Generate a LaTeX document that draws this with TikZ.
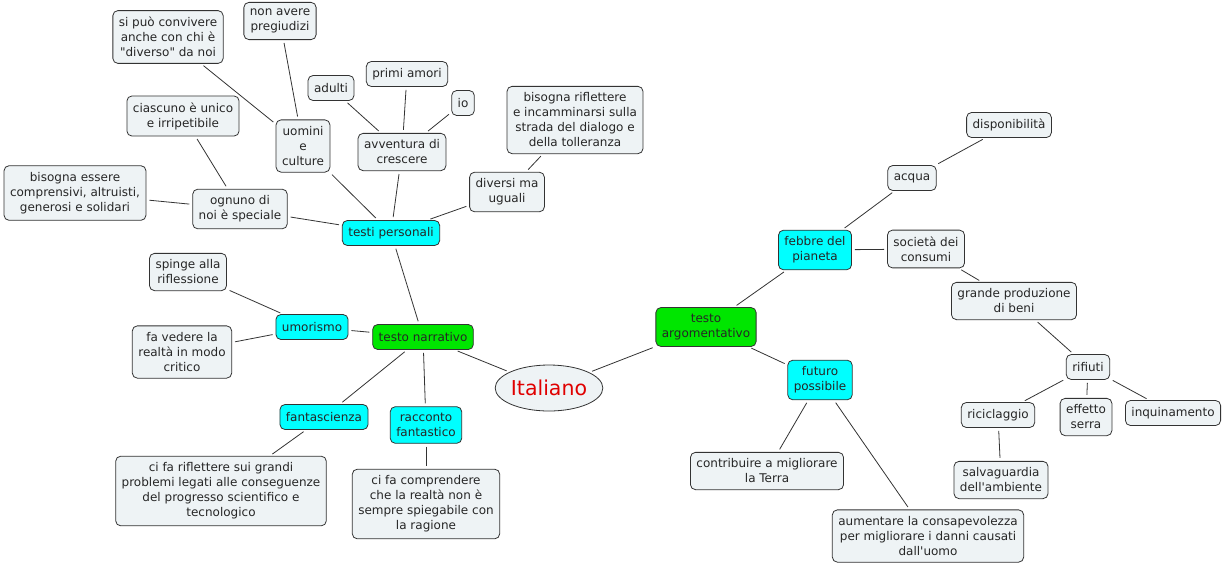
\documentclass[tikz,border=0pt]{standalone}
\usepackage{fontspec}
\setmainfont{DejaVu Sans}[Ligatures=TeXOff]
\usetikzlibrary{shapes.geometric}
\definecolor{leaffill}{HTML}{EEF3F5}
\definecolor{topicfill}{HTML}{00FFFF}
\definecolor{mainfill}{HTML}{00E600}
\definecolor{rootred}{HTML}{E00000}
\begin{document}
\begin{tikzpicture}[x=1pt, y=-1pt,
  every node/.style={font=\fontsize{12}{15}\selectfont, text=black!85, align=center},
  leaf/.style={draw=black!80, fill=leaffill, rounded corners=5pt, line width=0.8pt,
    inner xsep=6pt, inner ysep=6.5pt, minimum height=25pt},
  topic/.style={leaf, fill=topicfill},
  mainbox/.style={leaf, fill=mainfill},
  link/.style={draw=black!80, line width=0.8pt, shorten >=3pt, shorten <=3pt}]
  \useasboundingbox (0,0) rectangle (1225,566);

  \node[draw=black!80, fill=leaffill, ellipse, line width=0.8pt, minimum width=98pt, minimum height=46pt, inner sep=0pt,
    font=\fontsize{20.5}{24}\selectfont, text=rootred] (ital) at (549,388) {Italiano};

  \node[mainbox] (narr) at (423,337) {testo narrativo};
  \node[mainbox] (argo) at (706,327) {testo\\argomentativo};

  \node[topic] (pers) at (391,233) {testi personali};
  \node[topic] (umor) at (312,327) {umorismo};
  \node[topic] (fanta) at (324,417) {fantascienza};
  \node[topic] (racc) at (426,425) {racconto\\fantastico};
  \node[topic] (febbre) at (815,250) {febbre del\\pianeta};
  \node[topic] (futuro) at (820,380) {futuro\\possibile};

  \node[leaf] (conv) at (168,37) {si può convivere\\anche con chi è\\"diverso" da noi};
  \node[leaf] (preg) at (280,21) {non avere\\pregiudizi};
  \node[leaf] (adul) at (331,88) {adulti};
  \node[leaf] (amori) at (407,74) {primi amori};
  \node[leaf] (io) at (463,103) {io};
  \node[leaf] (rifl) at (575,120) {bisogna riflettere\\e incamminarsi sulla\\strada del dialogo e\\della tolleranza};
  \node[leaf] (unico) at (183,116) {ciascuno è unico\\e irripetibile};
  \node[leaf] (uomini) at (303,146) {uomini\\e\\culture};
  \node[leaf] (avv) at (402,152) {avventura di\\crescere};
  \node[leaf] (compr) at (75,193) {bisogna essere\\comprensivi, altruisti,\\generosi e solidari};
  \node[leaf] (ognuno) at (240,209) {ognuno di\\noi è speciale};
  \node[leaf] (divers) at (507,192) {diversi ma\\uguali};
  \node[leaf] (spinge) at (188,272) {spinge alla\\riflessione};
  \node[leaf] (critico) at (182,352) {fa vedere la\\realtà in modo\\critico};
  \node[leaf] (progr) at (221,491) {ci fa riflettere sui grandi\\problemi legati alle conseguenze\\del progresso scientifico e\\tecnologico};
  \node[leaf] (ragione) at (426,504) {ci fa comprendere\\che la realtà non è\\sempre spiegabile con\\la ragione};

  \node[leaf] (dispo) at (1009,125) {disponibilità};
  \node[leaf] (acqua) at (912,178) {acqua};
  \node[leaf] (consumi) at (926,249) {società dei\\consumi};
  \node[leaf] (beni) at (1014,301) {grande produzione\\di beni};
  \node[leaf] (rifiuti) at (1088,367) {rifiuti};
  \node[leaf] (ricic) at (998,415) {riciclaggio};
  \node[leaf] (serra) at (1086,417) {effetto\\serra};
  \node[leaf] (inqui) at (1173,413) {inquinamento};
  \node[leaf] (salva) at (1001,480) {salvaguardia\\dell'ambiente};
  \node[leaf] (terra) at (767,471) {contribuire a migliorare\\la Terra};
  \node[leaf] (uomo) at (928,536) {aumentare la consapevolezza\\per migliorare i danni causati\\dall'uomo};

  \foreach \a/\b in {ital/narr, ital/argo, narr/pers, narr/umor, narr/fanta, narr/racc,
    pers/ognuno, pers/uomini, pers/avv, pers/divers, ognuno/compr, ognuno/unico,
    uomini/conv, uomini/preg, avv/adul, avv/amori, avv/io, divers/rifl,
    umor/spinge, umor/critico, fanta/progr, racc/ragione,
    argo/febbre, argo/futuro, febbre/acqua, febbre/consumi, acqua/dispo,
    consumi/beni, beni/rifiuti, rifiuti/ricic, rifiuti/serra, rifiuti/inqui,
    ricic/salva, futuro/terra, futuro/uomo}
    \draw[link] (\a) -- (\b);
\end{tikzpicture}
\end{document}
